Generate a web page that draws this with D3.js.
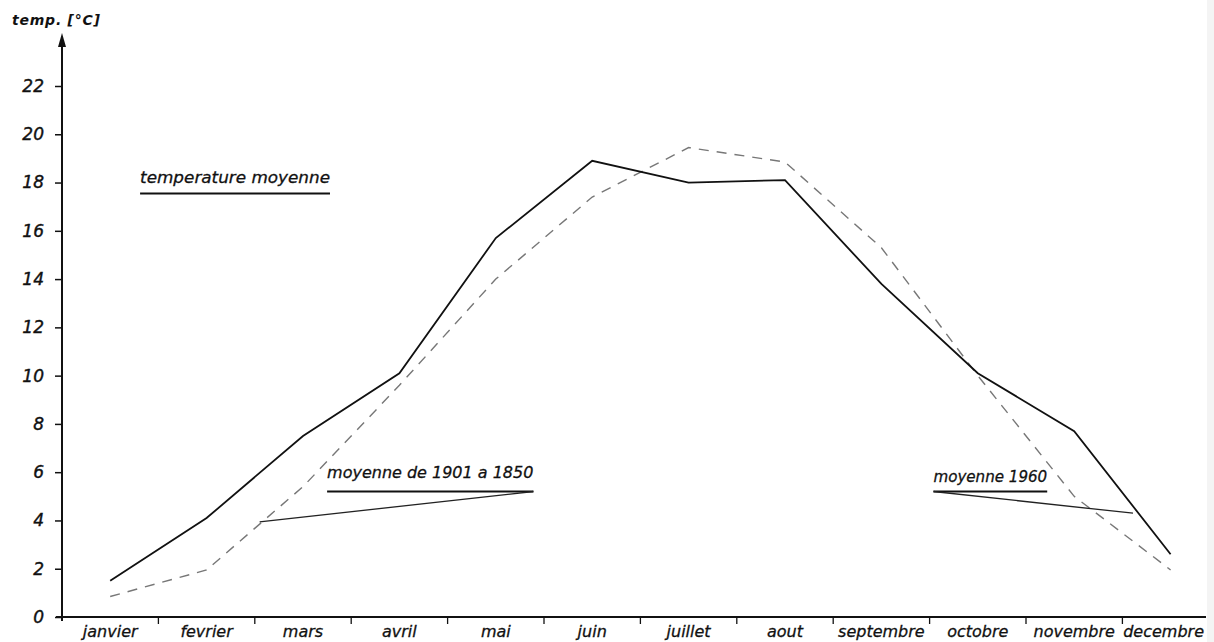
<!DOCTYPE html>
<html>
<head>
<meta charset="utf-8">
<script src="https://cdn.jsdelivr.net/npm/d3@7"></script>
<style>
  body { margin: 0; background: #fff; }
  svg { display: block; font-family: "DejaVu Sans", sans-serif; font-style: italic; }
</style>
</head>
<body>
<svg id="chart"></svg>
<script>
const months = ["janvier", "fevrier", "mars", "avril", "mai", "juin", "juillet", "aout", "septembre", "octobre", "novembre", "decembre"];
const mean1960 = [1.5, 4.1, 7.5, 10.1, 15.7, 18.9, 18.0, 18.1, 13.8, 10.1, 7.7, 2.6];
const mean1901 = [0.85, 1.95, 5.4, 9.6, 14.0, 17.4, 19.45, 18.85, 15.3, 10.0, 5.0, 1.95];
const yTicks = [0, 2, 4, 6, 8, 10, 12, 14, 16, 18, 20, 22];

const width = 1214, height = 642;
const margin = { left: 62, top: 35 };

const svg = d3.select("#chart")
    .attr("width", width)
    .attr("height", height);

// scan edge at the right (behind everything)
svg.append("rect")
    .attr("x", 1207).attr("y", 0).attr("width", 7).attr("height", height)
    .attr("fill", "#f4f4f4");

const x = d3.scaleBand().domain(months).range([margin.left, margin.left + 96.4 * 12]).padding(0);
const xi = d3.scaleLinear().domain([-0.5, 11.5]).range([margin.left, margin.left + 96.4 * 12]);
const y = d3.scaleLinear().domain([0, 22]).range([617, 86]);

// y axis
svg.append("line")
    .attr("x1", margin.left).attr("x2", margin.left)
    .attr("y1", y(0) + 4).attr("y2", margin.top + 6)
    .attr("stroke", "#111").attr("stroke-width", 2);
svg.append("path")
    .attr("d", `M${margin.left},${margin.top - 2} L${margin.left - 4},${margin.top + 12} L${margin.left + 4},${margin.top + 12} Z`)
    .attr("fill", "#111");

const yAxis = svg.append("g").attr("transform", `translate(${margin.left},0)`)
    .call(d3.axisLeft(y).tickValues(yTicks).tickSize(7).tickPadding(11).tickFormat(d3.format("d")));
yAxis.select(".domain").remove();
yAxis.selectAll("line").attr("stroke", "#111").attr("stroke-width", 1.5);
yAxis.selectAll("text").attr("font-size", 17).attr("fill", "#111")
    .attr("stroke", "#111").attr("stroke-width", 0.4)
    .attr("font-family", "DejaVu Sans").attr("font-style", "italic");

svg.append("text")
    .attr("x", 12).attr("y", 25)
    .attr("font-size", 14).attr("font-weight", "bold").attr("fill", "#111")
    .attr("textLength", 88).attr("lengthAdjust", "spacing")
    .text("temp.  [°C]");

// x axis
svg.append("line")
    .attr("x1", margin.left - 6).attr("x2", 1206)
    .attr("y1", y(0)).attr("y2", y(0))
    .attr("stroke", "#111").attr("stroke-width", 2);

svg.append("g").selectAll("line")
    .data(months.slice(1))
    .join("line")
    .attr("x1", d => x(d)).attr("x2", d => x(d))
    .attr("y1", y(0)).attr("y2", y(0) + 7)
    .attr("stroke", "#111").attr("stroke-width", 1.3);

svg.append("g").selectAll("text")
    .data(months)
    .join("text")
    .attr("x", (d, i) => x(d) + x.bandwidth() / 2 - (i == 11 ? 7 : 0))
    .attr("y", y(0) + 20)
    .attr("text-anchor", "middle")
    .attr("font-size", 16).attr("fill", "#111")
    .attr("stroke", "#111").attr("stroke-width", 0.3)
    .text(d => d);

// series
const line = d3.line().x((d, i) => xi(i)).y(d => y(d));

svg.append("path")
    .datum(mean1901)
    .attr("d", line)
    .attr("fill", "none")
    .attr("stroke", "#777").attr("stroke-width", 1.4)
    .attr("stroke-dasharray", "10,8");

svg.append("path")
    .datum(mean1960)
    .attr("d", line)
    .attr("fill", "none")
    .attr("stroke", "#111").attr("stroke-width", 1.8);

// annotations (in month-index / temperature units)
const notes = [
    { text: "temperature moyenne", tx: 0.31, ty: 18.0, ux2: 2.28, uy: 17.55, lead: null },
    { text: "moyenne de 1901 a 1850", tx: 2.25, ty: 5.75, ux2: 4.39, uy: 5.2, lead: [[4.39, 5.2], [1.55, 3.94]] },
    { text: "moyenne 1960", tx: 8.54, ty: 5.6, ux2: 9.72, uy: 5.2, lead: [[8.54, 5.2], [10.61, 4.3]] }
];

const ng = svg.append("g");
notes.forEach(n => {
    ng.append("text")
        .attr("x", xi(n.tx)).attr("y", y(n.ty))
        .attr("font-size", 16).attr("fill", "#111")
        .attr("stroke", "#111").attr("stroke-width", 0.3)
        .attr("textLength", xi(n.ux2) - xi(n.tx))
        .attr("lengthAdjust", "spacingAndGlyphs")
        .text(n.text);
    ng.append("line")
        .attr("x1", xi(n.tx)).attr("x2", xi(n.ux2))
        .attr("y1", y(n.uy)).attr("y2", y(n.uy))
        .attr("stroke", "#111").attr("stroke-width", 2);
    if (n.lead) {
        ng.append("line")
            .attr("x1", xi(n.lead[0][0])).attr("y1", y(n.lead[0][1]))
            .attr("x2", xi(n.lead[1][0])).attr("y2", y(n.lead[1][1]))
            .attr("stroke", "#222").attr("stroke-width", 1.3);
    }
});
</script>
</body>
</html>
